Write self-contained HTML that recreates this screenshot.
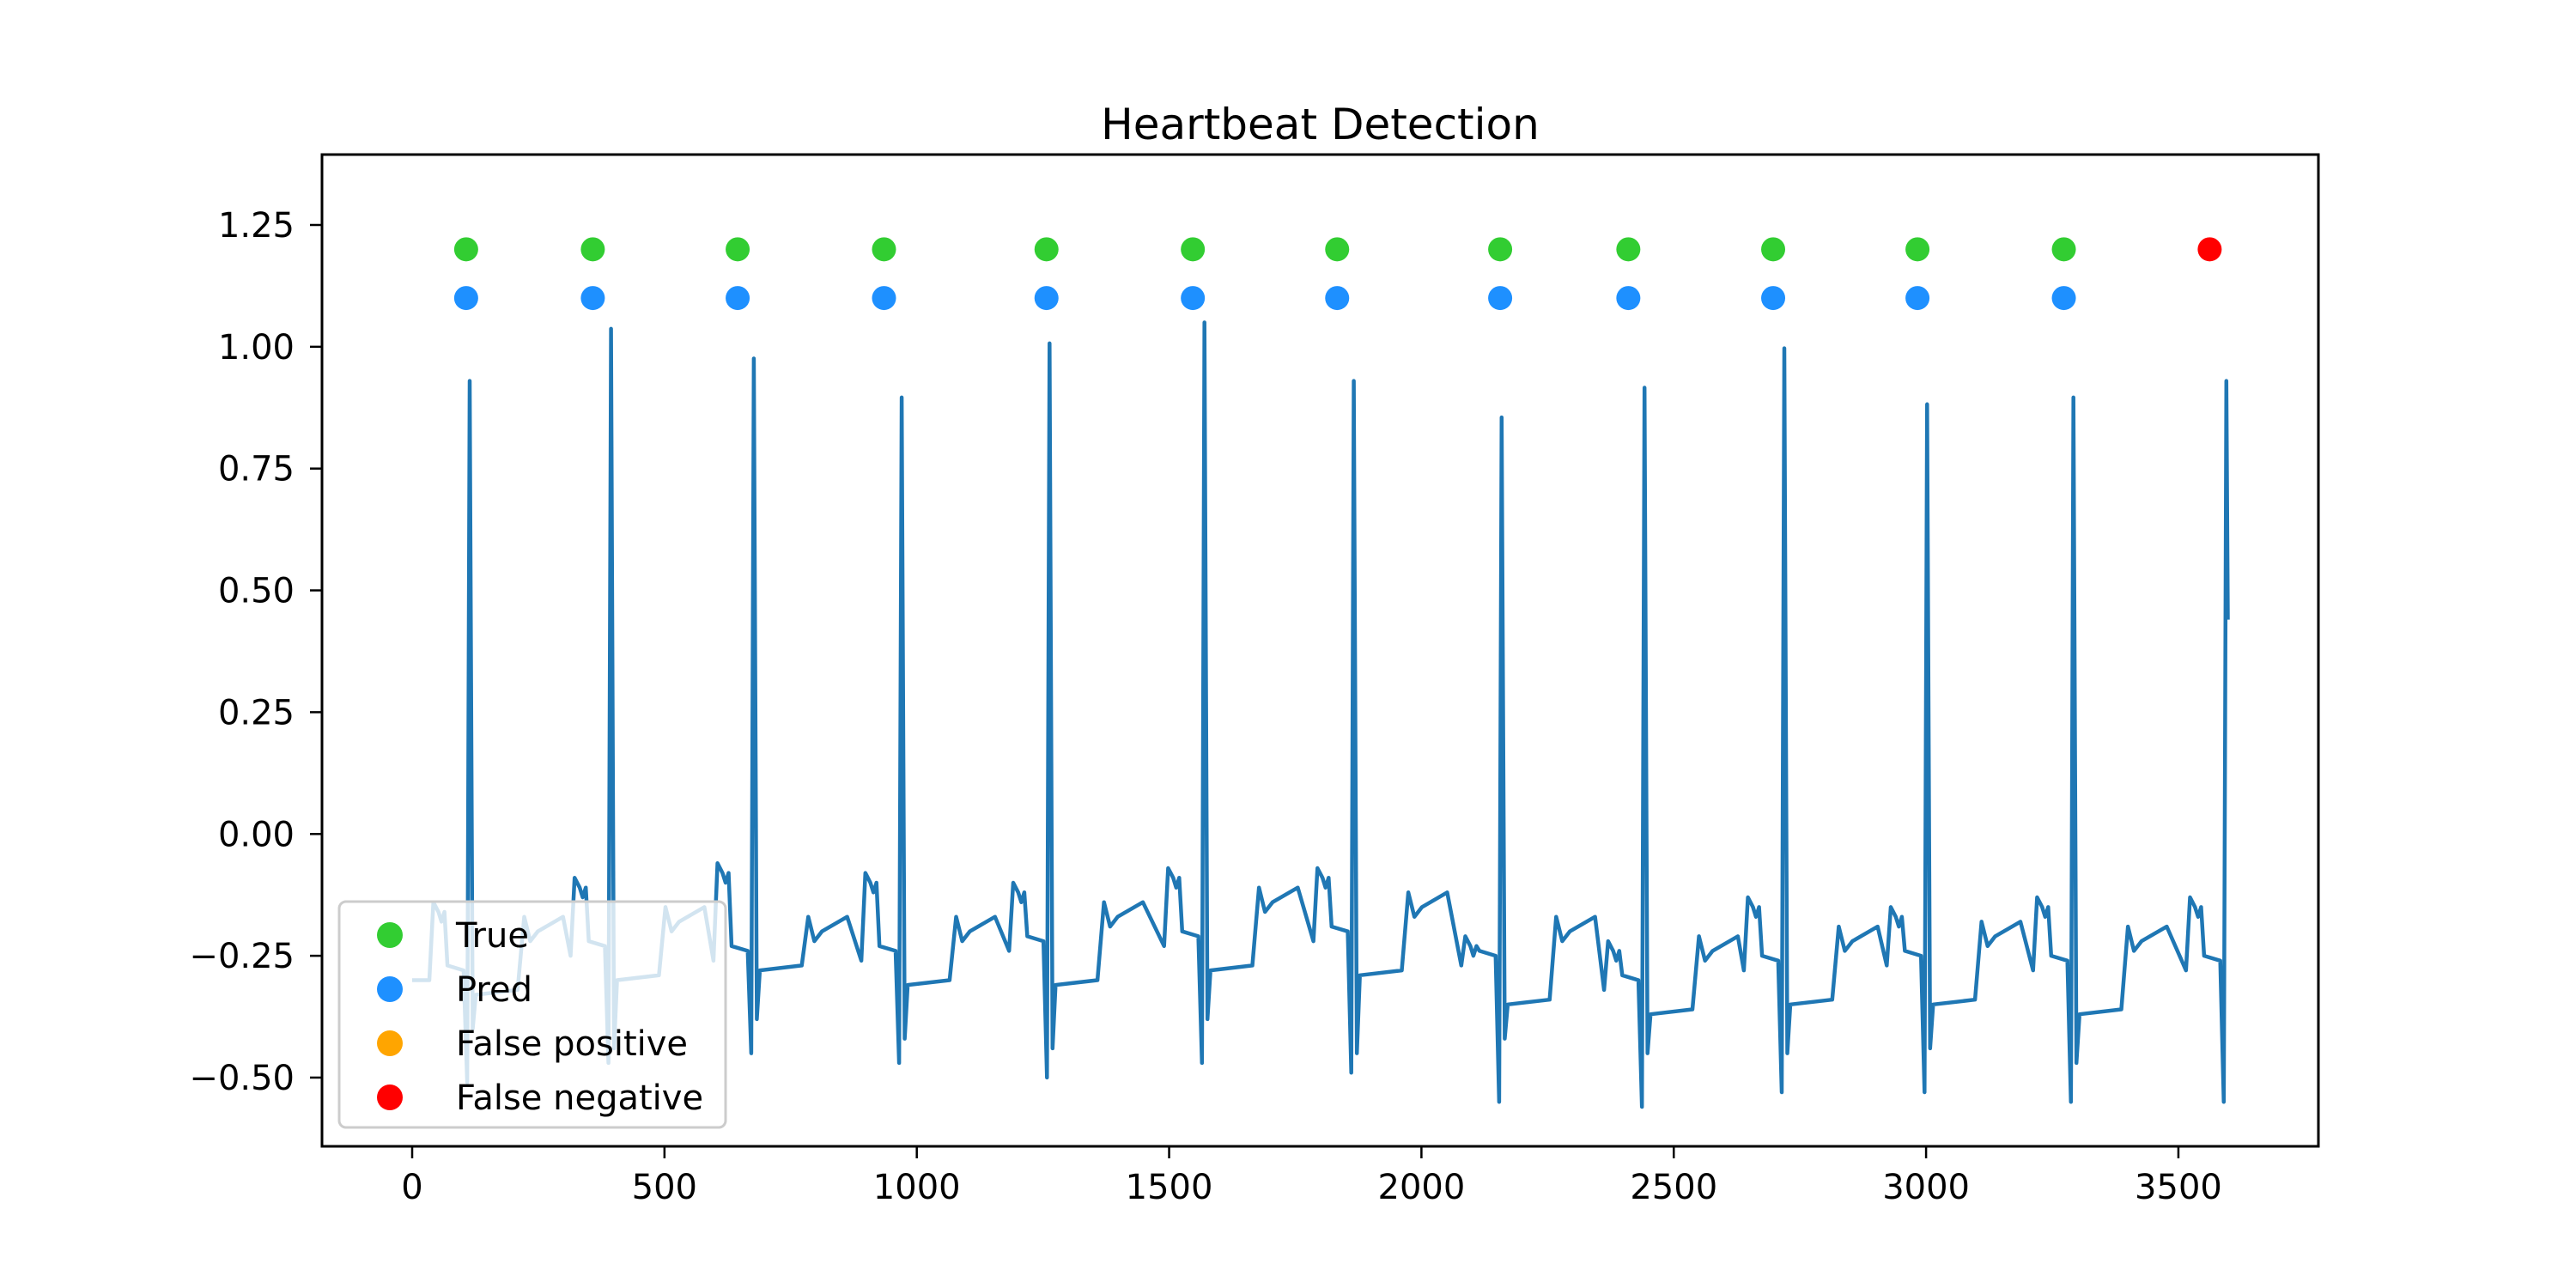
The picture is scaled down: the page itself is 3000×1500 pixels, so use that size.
<!DOCTYPE html>
<html><head><meta charset="utf-8">
<style>
html,body{margin:0;padding:0;background:#fff;}
svg{display:block;font-family:"DejaVu Sans","Liberation Sans",sans-serif;}
</style></head>
<body>
<svg id="chart" width="3000" height="1500" viewBox="0 0 3000 1500" xmlns="http://www.w3.org/2000/svg">
<rect width="3000" height="1500" fill="#fff"/>
<defs><clipPath id="plotclip"><rect x="375" y="180" width="2325" height="1155"/></clipPath></defs>
<text x="1537.5" y="162" font-size="50" text-anchor="middle" fill="#000">Heartbeat Detection</text>
<g id="plot" clip-path="url(#plotclip)"></g>
<g id="marks"></g>
<rect x="375" y="180" width="2325" height="1155" fill="none" stroke="#000" stroke-width="3"/>
<g id="xticks"></g>
<g id="yticks"></g>
<g id="legend">
  <rect x="395" y="1050" width="450" height="263" rx="8" fill="#fff" fill-opacity="0.8" stroke="#cccccc" stroke-width="3"/>
  <g><circle cx="454" cy="1089" r="15" fill="#32cd32"/><text x="531" y="1103" font-size="40">True</text></g>
  <g><circle cx="454" cy="1152" r="15" fill="#1e90ff"/><text x="531" y="1166" font-size="40">Pred</text></g>
  <g><circle cx="454" cy="1215" r="15" fill="#ffa500"/><text x="531" y="1229" font-size="40">False positive</text></g>
  <g><circle cx="454" cy="1278" r="15" fill="#ff0000"/><text x="531" y="1292" font-size="40">False negative</text></g>
</g>
</svg>
<script>
// ---- data ----
const xTicks = [0, 500, 1000, 1500, 2000, 2500, 3000, 3500];
const yTicks = [-0.50, -0.25, 0.00, 0.25, 0.50, 0.75, 1.00, 1.25];
const trueBeats = [107, 358, 645, 935, 1257, 1547, 1833, 2156, 2410, 2697, 2983, 3273];
const predBeats = [107, 358, 645, 935, 1257, 1547, 1833, 2156, 2410, 2697, 2983, 3273];
const falsePositives = [];
const falseNegatives = [3562];
const trueLevel = 1.2;
const predLevel = 1.1;
// ECG per-beat values
const rPeakX = [114, 394, 677, 970, 1263, 1570, 1866, 2159, 2442, 2719, 3002, 3292, 3595];
const rPeakY = [0.93, 1.037, 0.976, 0.896, 1.007, 1.05, 0.93, 0.855, 0.916, 0.997, 0.882, 0.896, 0.93];
const qDipY  = [-0.51, -0.47, -0.45, -0.47, -0.50, -0.47, -0.49, -0.55, -0.56, -0.53, -0.53, -0.55, -0.55];
const sDipY  = [-0.40, -0.44, -0.38, -0.42, -0.44, -0.38, -0.45, -0.42, -0.45, -0.45, -0.44, -0.47];
const flatY  = [-0.33, -0.30, -0.28, -0.31, -0.31, -0.28, -0.29, -0.35, -0.37, -0.35, -0.35, -0.37];
const tWaveY = [-0.22, -0.20, -0.22, -0.22, -0.19, -0.16, -0.17, -0.22, -0.26, -0.24, -0.23, -0.24];
const preY   = [-0.30, -0.25, -0.26, -0.26, -0.24, -0.23, -0.22, -0.27, -0.32, -0.28, -0.27, -0.28, -0.28];
const pWaveY = [-0.18, -0.13, -0.10, -0.12, -0.14, -0.11, -0.11, -0.25, -0.26, -0.17, -0.19, -0.17, -0.17];
const startY = -0.30;
const endY = 0.44;

// ---- axes ----
const X = v => 480 + v * 0.5877;
const Y = v => 262 + (1.25 - v) * 567.4;
const NS = 'http://www.w3.org/2000/svg';
function mk(tag, attrs, parent){const e=document.createElementNS(NS,tag);for(const k in attrs)e.setAttribute(k,attrs[k]);parent.appendChild(e);return e;}

const xg = document.getElementById('xticks');
xTicks.forEach(t=>{
  const l = mk('line',{x1:X(t),x2:X(t),y1:1335,y2:1349,stroke:'#000','stroke-width':2.5},xg);
  
  
  const tx = mk('text',{x:X(t),y:1396,'font-size':40,'text-anchor':'middle'},xg);
  tx.textContent = String(t);
  
  
});
const yg = document.getElementById('yticks');
yTicks.forEach(t=>{
  const l = mk('line',{x1:361,x2:375,y1:Y(t),y2:Y(t),stroke:'#000','stroke-width':2.5},yg);
  
  
  const tx = mk('text',{x:343,y:Y(t)+14,'font-size':40,'text-anchor':'end'},yg);
  tx.textContent = (t<0?'\u2212':'') + Math.abs(t).toFixed(2);
  
  
});

// ---- ECG line ----
const pts = [[0, startY]];
for (let i=0;i<rPeakX.length;i++){
  const r = rPeakX[i];
  pts.push([r-80, preY[i]]);
  pts.push([r-72, pWaveY[i]+0.04]);
  pts.push([r-62, pWaveY[i]+0.02]);
  pts.push([r-56, pWaveY[i]]);
  pts.push([r-50, pWaveY[i]+0.02]);
  pts.push([r-44, preY[i]+0.03]);
  pts.push([r-12, preY[i]+0.02]);
  pts.push([r-5, qDipY[i]]);
  pts.push([r, rPeakY[i]]);
  if (i < sDipY.length){
    pts.push([r+6, sDipY[i]]);
    pts.push([r+12, flatY[i]]);
    pts.push([r+95, flatY[i]+0.01]);
    pts.push([r+108, tWaveY[i]+0.05]);
    pts.push([r+120, tWaveY[i]]);
    pts.push([r+135, tWaveY[i]+0.02]);
    pts.push([r+185, tWaveY[i]+0.05]);
  } else {
    pts.push([r+3, endY]);
  }
}
const plot = document.getElementById('plot');
const ecg = mk('path',{d:'M'+pts.map(p=>X(p[0]).toFixed(1)+','+Y(p[1]).toFixed(1)).join(' L'),fill:'none',stroke:'#1f77b4','stroke-width':4.5,'stroke-linejoin':'round'},plot);



// ---- markers ----
const mg = document.getElementById('marks');
trueBeats.forEach(b=>{
  const c = mk('circle',{cx:X(b),cy:Y(trueLevel),r:14,fill:'#32cd32'},mg);
  
  
});
predBeats.forEach(b=>{
  const c = mk('circle',{cx:X(b),cy:Y(predLevel),r:14,fill:'#1e90ff'},mg);
  
  
});
falsePositives.forEach(b=>{
  const c = mk('circle',{cx:X(b),cy:Y(predLevel),r:14,fill:'#ffa500'},mg);
  
  
});
falseNegatives.forEach(b=>{
  const c = mk('circle',{cx:X(b),cy:Y(trueLevel),r:14,fill:'#ff0000'},mg);
  
  
});
</script>
</body></html>
